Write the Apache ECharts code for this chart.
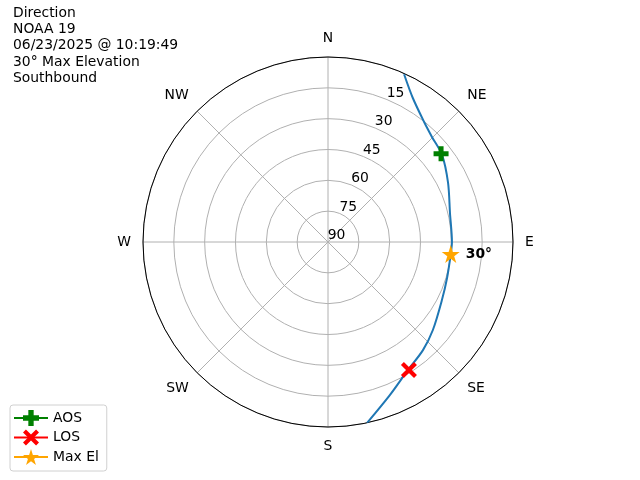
<!DOCTYPE html>
<html><head><meta charset="utf-8">
<script src="https://cdn.jsdelivr.net/npm/echarts@6/dist/echarts.min.js"></script>
<style>html,body{margin:0;padding:0;background:#fff}#c{width:640px;height:480px}</style>
</head><body><div id="c"></div>
<script>
const directions = ['N', 'NE', 'E', 'SE', 'S', 'SW', 'W', 'NW'];
const radiusTicks = [0, 15, 30, 45, 60, 75, 90];
const trackAz = [24.4, 30.5, 38.7, 44.7, 52.7, 63.8, 76.6, 90, 95.6, 106.8, 117, 130, 138.7, 148, 158, 167.8];
const trackEl = [0.4, 8.7, 15.2, 18.1, 20.2, 24.9, 29.0, 29.7, 30, 29.5, 27.8, 23.4, 20, 16.6, 9.7, 0];
const aos = { el: 20.2, az: 52 };
const los = { el: 16.3, az: 147.7 };
const maxEl = { el: 30, az: 95.6 };
const titleLines = ['Direction', 'NOAA 19', '06/23/2025 @ 10:19:49', '30° Max Elevation', 'Southbound'];

const FONT = 'DejaVu Sans';
const chart = echarts.init(document.getElementById('c'));
const P = {
  plus: 'path://M4,0h4v4h4v4h-4v4h-4v-4h-4v-4h4z',
  x: 'path://M2.2,0L6,3.8L9.8,0L12,2.2L8.2,6L12,9.8L9.8,12L6,8.2L2.2,12L0,9.8L3.8,6L0,2.2z',
  star: 'path://M50,0L61.2,34.5L97.6,34.5L68.2,55.9L79.4,90.5L50,69.1L20.6,90.5L31.8,55.9L2.4,34.5L38.8,34.5z'
};
const center = [328, 242];
const R = 185;
chart.setOption({
  animation: false,
  textStyle: { fontFamily: FONT },
  title: {
    text: titleLines.join('\n'), left: 8, top: 0,
    textStyle: { fontFamily: FONT, fontSize: 13.9, fontWeight: 'normal', color: '#000', lineHeight: 16.3 }
  },
  legend: {
    orient: 'vertical', left: 10, top: 405,
    borderColor: '#d0d0d0', borderWidth: 1, borderRadius: 3,
    padding: [5, 8, 6, 3], itemGap: 3.5, itemWidth: 34, itemHeight: 20,
    textStyle: { fontFamily: FONT, fontSize: 13.9, color: '#000' },
    data: ['AOS', 'LOS', 'Max El']
  },
  polar: [
    { center: center, radius: R },
    { center: [center[0] + 21, center[1] - 5], radius: R }
  ],
  angleAxis: [
    {
      polarIndex: 0, type: 'value', min: 0, max: 360, interval: 45, startAngle: 90, clockwise: true,
      axisLine: { lineStyle: { color: '#000', width: 1 } },
      axisTick: { show: false },
      splitLine: { lineStyle: { color: '#b0b0b0', width: 1 } },
      axisLabel: { margin: 12, align: 'center', verticalAlign: 'middle', fontFamily: FONT, fontSize: 13.9, color: '#000',
        formatter: v => directions[Math.round(v / 45) % 8] }
    },
    {
      polarIndex: 1, type: 'value', min: 0, max: 360, startAngle: 67.5, clockwise: true,
      axisLine: { show: false }, axisTick: { show: false }, splitLine: { show: false }, axisLabel: { show: false }
    }
  ],
  radiusAxis: [
    {
      polarIndex: 0, type: 'value', min: 0, max: 90, interval: 15, inverse: true,
      axisLine: { show: false }, axisTick: { show: false }, axisLabel: { show: false },
      splitLine: { lineStyle: { color: '#b0b0b0', width: 1 } }
    },
    {
      polarIndex: 1, type: 'value', min: 0, max: 90, interval: 15, inverse: true,
      axisLine: { show: false }, axisTick: { show: false }, splitLine: { show: false },
      axisLabel: { fontFamily: FONT, fontSize: 13.9, color: '#000', margin: 4,
        formatter: v => (v === 0 ? '' : String(v)) }
    }
  ],
  series: [
    {
      name: 'track', type: 'line', coordinateSystem: 'polar', polarIndex: 0,
      data: trackEl.map((e, i) => [e, trackAz[i]]), smooth: 0.3, showSymbol: false,
      lineStyle: { color: '#1f77b4', width: 2 }, itemStyle: { color: '#1f77b4' }, z: 3
    },
    {
      name: 'AOS', type: 'line', coordinateSystem: 'polar', polarIndex: 0,
      data: [[aos.el, aos.az]], symbol: P.plus, symbolSize: 15,
      itemStyle: { color: '#008000' }, lineStyle: { color: '#008000', width: 2 }, z: 5
    },
    {
      name: 'LOS', type: 'line', coordinateSystem: 'polar', polarIndex: 0,
      data: [[los.el, los.az]], symbol: P.x, symbolSize: 16,
      itemStyle: { color: '#ff0000' }, lineStyle: { color: '#ff0000', width: 2 }, z: 5
    },
    {
      name: 'Max El', type: 'line', coordinateSystem: 'polar', polarIndex: 0,
      data: [[maxEl.el, maxEl.az]], symbol: P.star, symbolSize: 18,
      itemStyle: { color: '#ffa500' }, lineStyle: { color: '#ffa500', width: 2 }, z: 5,
      label: { show: true, position: 'right', distance: 6, formatter: p => p.value[0] + '°',
        fontFamily: FONT, fontSize: 13.9, fontWeight: 'bold', color: '#000' }
    }
  ]
});
</script></body></html>
